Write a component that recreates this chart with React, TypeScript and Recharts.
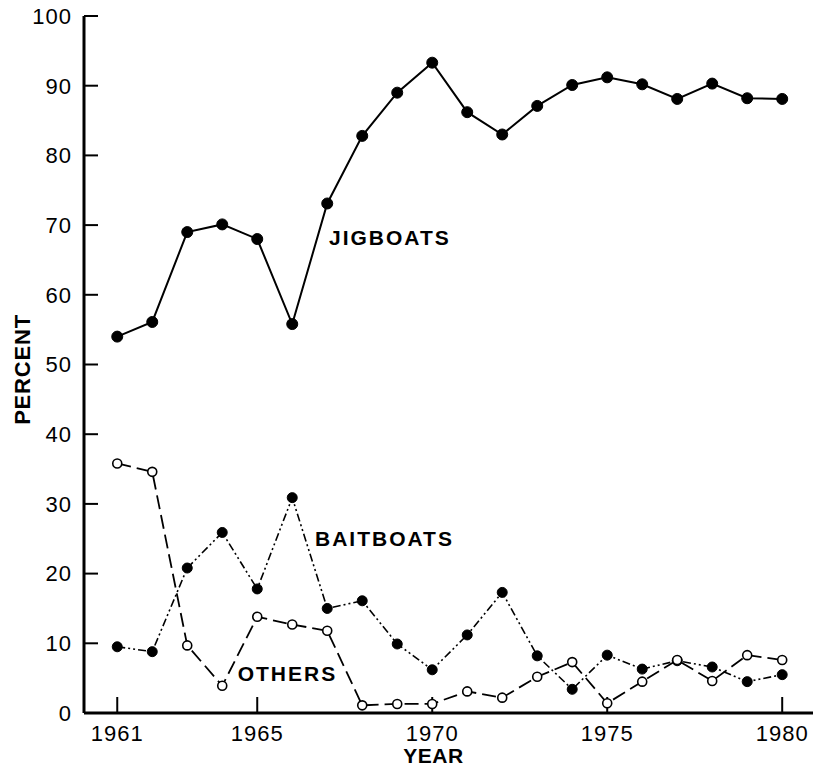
import { LineChart, Line, XAxis, YAxis, ReferenceDot } from "recharts";

const years = [1961, 1962, 1963, 1964, 1965, 1966, 1967, 1968, 1969, 1970, 1971, 1972, 1973, 1974, 1975, 1976, 1977, 1978, 1979, 1980];
const jigboats = [54.0, 56.1, 69.0, 70.1, 68.0, 55.8, 73.1, 82.8, 89.0, 93.3, 86.2, 83.0, 87.1, 90.1, 91.2, 90.2, 88.1, 90.3, 88.2, 88.1];
const baitboats = [9.5, 8.8, 20.8, 25.9, 17.8, 30.9, 15.0, 16.1, 9.9, 6.2, 11.2, 17.3, 8.2, 3.4, 8.3, 6.3, 7.5, 6.6, 4.5, 5.5];
const others = [35.8, 34.6, 9.7, 3.9, 13.8, 12.7, 11.8, 1.1, 1.3, 1.3, 3.1, 2.2, 5.2, 7.3, 1.4, 4.5, 7.6, 4.6, 8.3, 7.6];

const xTicks = [1961, 1965, 1970, 1975, 1980];
const yTicks = [0, 10, 20, 30, 40, 50, 60, 70, 80, 90, 100];

// series labels, placed in data coordinates (left edge, vertical middle)
const seriesLabels = [
  { text: "JIGBOATS", year: 1967.05, value: 68.2 },
  { text: "BAITBOATS", year: 1966.65, value: 25.0 },
  { text: "OTHERS", year: 1964.44, value: 5.7 },
];

const data = years.map((year, i) => ({
  year,
  jigboats: jigboats[i],
  baitboats: baitboats[i],
  others: others[i],
}));

const FONT = "'Liberation Sans', Arial, Helvetica, sans-serif";

export default function App() {
  return (
    <div style={{ position: "absolute", left: 0, top: 0, background: "#fff" }}>
      <LineChart width={813} height={770} data={data} margin={{ top: 16, right: 0, left: 0, bottom: 0 }}>
        <XAxis
          dataKey="year"
          type="number"
          domain={[1960.05, 1980.88]}
          allowDataOverflow
          ticks={xTicks}
          height={57}
          axisLine={{ stroke: "#000", strokeWidth: 3 }}
          tickLine={{ stroke: "#000", strokeWidth: 2 }}
          tickSize={-16}
          tickMargin={28}
          tick={{ fill: "#000", fontSize: 22, fontFamily: FONT, letterSpacing: 1 }}
          label={{
            content: ({ viewBox }: any) => (
              <text
                x={viewBox.x + viewBox.width / 2 - 15}
                y={viewBox.y + 42}
                textAnchor="middle"
                dominantBaseline="central"
                fontFamily={FONT}
                fontWeight="bold"
                fontSize={21}
                letterSpacing={0.5}
                fill="#000"
              >
                YEAR
              </text>
            ),
          }}
        />
        <YAxis
          type="number"
          domain={[0, 100]}
          ticks={yTicks}
          width={84}
          axisLine={{ stroke: "#000", strokeWidth: 3 }}
          tickLine={{ stroke: "#000", strokeWidth: 2 }}
          tickSize={-14}
          tickMargin={26}
          tick={{ fill: "#000", fontSize: 22, fontFamily: FONT, letterSpacing: 1 }}
          label={{
            content: ({ viewBox }: any) => {
              const cx = 22;
              const cy = viewBox.y + viewBox.height / 2 + 5;
              return (
                <text
                  x={cx}
                  y={cy}
                  transform={`rotate(-90 ${cx} ${cy})`}
                  textAnchor="middle"
                  dominantBaseline="central"
                  fontFamily={FONT}
                  fontWeight="bold"
                  fontSize={22}
                  letterSpacing={0.8}
                  fill="#000"
                >
                  PERCENT
                </text>
              );
            },
          }}
        />
        <Line
          dataKey="jigboats"
          stroke="#000"
          strokeWidth={2}
          dot={{ r: 5.5, fill: "#000", stroke: "#000", strokeWidth: 1 }}
          isAnimationActive={false}
        />
        <Line
          dataKey="baitboats"
          stroke="#000"
          strokeWidth={1.6}
          strokeDasharray="8 3 2 3 2 3"
          dot={{ r: 5, fill: "#000", stroke: "#000", strokeWidth: 1, strokeDasharray: "" }}
          isAnimationActive={false}
        />
        <Line
          dataKey="others"
          stroke="#000"
          strokeWidth={1.8}
          strokeDasharray="14 6"
          dot={{ r: 4.5, fill: "#fff", stroke: "#000", strokeWidth: 1.6, strokeDasharray: "" }}
          isAnimationActive={false}
        />
        {seriesLabels.map((s) => (
          <ReferenceDot
            key={s.text}
            x={s.year}
            y={s.value}
            r={0}
            shape={(p: any) => (
              <text
                x={p.cx}
                y={p.cy}
                dominantBaseline="central"
                fontFamily={FONT}
                fontWeight="bold"
                fontSize={21}
                letterSpacing={2}
                fill="#000"
              >
                {s.text}
              </text>
            )}
          />
        ))}
      </LineChart>
    </div>
  );
}
